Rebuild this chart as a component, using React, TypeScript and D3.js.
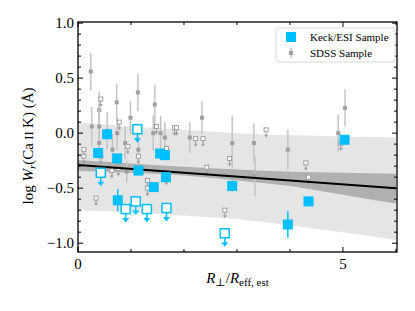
import React from 'react';
import * as d3 from 'd3';

// Keck/ESI detections
const keckX = [0.38, 0.55, 0.74, 0.75, 1.14, 1.43, 1.55, 1.64, 1.66, 2.91, 3.96, 4.35, 5.03];
const keckY = [-0.18, -0.01, -0.23, -0.61, -0.34, -0.49, -0.185, -0.2, -0.4, -0.48, -0.83, -0.62, -0.06];
const keckErr = [0.04, 0.04, 0.04, 0.1, 0.04, 0.04, 0.04, 0.04, 0.04, 0.05, 0.12, 0.03, 0.03];

// Keck/ESI upper limits
const keckLimX = [0.43, 1.12, 0.9, 1.09, 1.3, 1.67, 2.77];
const keckLimY = [-0.36, 0.035, -0.69, -0.62, -0.69, -0.68, -0.91];

// SDSS detections
const sdssX = [0.24, 0.4, 0.73, 0.99, 1.13, 1.45, 2.34, 0.26, 0.4, 0.4, 0.65, 0.74, 0.89, 1.14, 1.42, 1.56, 1.64, 2.11, 2.91, 3.32, 3.34, 3.96, 4.91, 5.04, 0.55, 0.92];
const sdssY = [0.56, 0.21, 0.28, 0.14, 0.37, 0.26, 0.14, 0.06, 0.06, -0.09, -0.15, 0.0, -0.09, -0.15, 0.0, 0.0, -0.04, -0.04, -0.09, -0.09, -0.39, -0.15, 0.0, 0.23, 0.02, -0.35];
const sdssErr = [0.17, 0.17, 0.17, 0.15, 0.17, 0.18, 0.15, 0.18, 0.2, 0.12, 0.14, 0.15, 0.15, 0.14, 0.16, 0.16, 0.14, 0.14, 0.25, 0.18, 0.18, 0.18, 0.17, 0.17, 0.17, 0.1];

// SDSS upper limits
const sdssLimX = [0.43, 0.78, 1.48, 1.82, 1.86, 0.11, 0.11, 0.43, 0.94, 0.64, 0.76, 1.14, 1.31, 1.31, 1.67, 1.67, 2.22, 2.36, 2.43, 2.86, 3.55, 4.3, 4.35, 4.96, 0.34, 2.77];
const sdssLimY = [0.31, 0.1, 0.06, 0.05, 0.05, -0.15, -0.21, -0.21, -0.12, -0.34, -0.32, -0.21, -0.43, -0.5, -0.14, -0.4, -0.05, -0.05, -0.31, -0.23, 0.03, -0.27, -0.4, -0.09, -0.59, -0.7];

// fit and bands
const fitX = [0, 6];
const fitY = [-0.29, -0.5];
const bandX = [0, 1, 2, 3, 4, 5, 6];
const innerHi = [-0.245, -0.275, -0.305, -0.33, -0.35, -0.36, -0.37];
const innerLo = [-0.345, -0.36, -0.385, -0.43, -0.48, -0.56, -0.64];
const outerHi = [0.1, 0.06, 0.03, 0.0, -0.02, -0.03, -0.04];
const outerLo = [-0.7, -0.72, -0.75, -0.78, -0.84, -0.9, -0.97];

const yMajor = [-1.0, -0.5, 0.0, 0.5, 1.0];
const xMajor = [0, 5];

const W = 415;
const H = 311;
const margin = { top: 22, right: 18, bottom: 59, left: 78 };

const CYAN = '#00bfff';
const GRAY = '#a0a0a0';
const BAR = '#c4c4c4';
const FONT = '"Liberation Serif", "DejaVu Serif", serif';

export default function App() {
  const x = d3.scaleLinear().domain([0, 6.02]).range([margin.left, W - margin.right]);
  const y = d3.scaleLinear().domain([-1.08, 1.01]).range([H - margin.bottom, margin.top]);
  const x0 = margin.left, x1 = W - margin.right, y0 = H - margin.bottom, y1 = margin.top;

  const area = (hi: number[], lo: number[]) =>
    d3.area<number>()
      .x((d, i) => x(bandX[i]))
      .y0((d, i) => y(lo[i]))
      .y1((d, i) => y(hi[i]))
      .curve(d3.curveMonotoneX)(hi) || '';

  const fitLine = d3.line<number>().x((d, i) => x(fitX[i])).y((d) => y(d))(fitY) || '';

  const yMinor = d3.range(-10, 11).map((d) => d / 10).filter((d) => !yMajor.some((m) => Math.abs(m - d) < 1e-6));
  const xMinor = [1, 2, 3, 4, 6];

  return (
    <svg width={W} height={H} style={{ position: 'absolute', left: 0, top: 0, background: '#fff' }} fontFamily={FONT}>
      <defs>
        <clipPath id="plot">
          <rect x={x0} y={y1} width={x1 - x0} height={y0 - y1} />
        </clipPath>
      </defs>
      <g clipPath="url(#plot)">
        <path d={area(outerHi, outerLo)} fill="#e5e5e5" />
        <path d={area(innerHi, innerLo)} fill="#b0b0b0" />

        {/* SDSS detections */}
        {sdssX.map((d, i) => (
          <g key={'s' + i}>
            <line x1={x(d)} x2={x(d)} y1={y(sdssY[i] - sdssErr[i])} y2={y(sdssY[i] + sdssErr[i])} stroke={BAR} strokeWidth={1.5} />
            <rect x={x(d) - 2} y={y(sdssY[i]) - 2} width={4} height={4} fill={GRAY} />
          </g>
        ))}
        {/* SDSS upper limits */}
        {sdssLimX.map((d, i) => {
          const cx = x(d), cy = y(sdssLimY[i]);
          return (
            <g key={'sl' + i} stroke={GRAY} fill="none">
              <rect x={cx - 2} y={cy - 2} width={4} height={4} fill="#fff" strokeWidth={1} />
              <line x1={cx} x2={cx} y1={cy + 2} y2={cy + 6} strokeWidth={1} />
              <path d={`M${cx - 2},${cy + 5}L${cx + 2},${cy + 5}L${cx},${cy + 8}Z`} fill={GRAY} stroke="none" />
            </g>
          );
        })}

        <path d={fitLine} stroke="#000" strokeWidth={2} fill="none" />

        {/* Keck detections */}
        {keckX.map((d, i) => (
          <g key={'k' + i}>
            <line x1={x(d)} x2={x(d)} y1={y(keckY[i] - keckErr[i])} y2={y(keckY[i] + keckErr[i])} stroke={CYAN} strokeWidth={1.5} />
            <rect x={x(d) - 5} y={y(keckY[i]) - 5} width={10} height={10} fill={CYAN} />
          </g>
        ))}
        {/* Keck upper limits */}
        {keckLimX.map((d, i) => {
          const cx = x(d), cy = y(keckLimY[i]);
          return (
            <g key={'kl' + i}>
              <line x1={cx} x2={cx} y1={cy + 5} y2={cy + 10} stroke={CYAN} strokeWidth={1.5} />
              <path d={`M${cx - 3.5},${cy + 9}L${cx + 3.5},${cy + 9}L${cx},${cy + 13.5}Z`} fill={CYAN} />
              <rect x={cx - 4.5} y={cy - 4.5} width={9} height={9} fill="#fff" stroke={CYAN} strokeWidth={1.5} />
            </g>
          );
        })}
      </g>

      {/* frame */}
      <rect x={x0} y={y1} width={x1 - x0} height={y0 - y1} fill="none" stroke="#000" strokeWidth={1.3} />

      {/* y ticks */}
      {yMajor.map((t) => (
        <g key={'ym' + t}>
          <line x1={x0} x2={x0 + 5} y1={y(t)} y2={y(t)} stroke="#000" />
          <line x1={x1} x2={x1 - 5} y1={y(t)} y2={y(t)} stroke="#000" />
          <text x={x0 - 4} y={y(t)} dy="0.35em" textAnchor="end" fontSize={15}>
            {t < 0 ? '\u2212' + Math.abs(t).toFixed(1) : t.toFixed(1)}
          </text>
        </g>
      ))}
      {yMinor.map((t) => (
        <g key={'yn' + t}>
          <line x1={x0} x2={x0 + 3} y1={y(t)} y2={y(t)} stroke="#000" />
          <line x1={x1} x2={x1 - 3} y1={y(t)} y2={y(t)} stroke="#000" />
        </g>
      ))}

      {/* x ticks */}
      {xMajor.map((t) => (
        <g key={'xm' + t}>
          <line x1={x(t)} x2={x(t)} y1={y0} y2={y0 - 5} stroke="#000" />
          <line x1={x(t)} x2={x(t)} y1={y1} y2={y1 + 5} stroke="#000" />
          <text x={x(t)} y={y0 + 17} textAnchor="middle" fontSize={15}>{t}</text>
        </g>
      ))}
      {xMinor.map((t) => (
        <g key={'xn' + t}>
          <line x1={x(t)} x2={x(t)} y1={y0} y2={y0 - 3} stroke="#000" />
          <line x1={x(t)} x2={x(t)} y1={y1} y2={y1 + 3} stroke="#000" />
        </g>
      ))}

      {/* axis labels */}
      <text x={(x0 + x1) / 2} y={283} textAnchor="middle" fontSize={15}>
        <tspan fontStyle="italic">R</tspan>
        <tspan fontSize={11} dy={3}>⊥</tspan>
        <tspan dy={-3}>/</tspan>
        <tspan fontStyle="italic">R</tspan>
        <tspan fontSize={11} dy={3}>eff, est</tspan>
      </text>
      <text transform={`translate(33,146) rotate(-90)`} textAnchor="middle" fontSize={15}>
        log <tspan fontStyle="italic">W</tspan>
        <tspan fontSize={11} fontStyle="italic" dy={3}>r</tspan>
        <tspan dy={-3}>(Ca</tspan>
        <tspan fontSize={13}> II </tspan>
        <tspan>K) (Å)</tspan>
      </text>

      {/* legend */}
      <rect x={276} y={28} width={119} height={34} rx={3} fill="#fff" fillOpacity={0.85} stroke="#d8d8d8" strokeWidth={1} />
      <rect x={286} y={32} width={10} height={10} fill={CYAN} />
      <text x={310} y={41} fontSize={11}>Keck/ESI Sample</text>
      <line x1={291} x2={291} y1={48} y2={58} stroke={BAR} strokeWidth={1.5} />
      <rect x={289} y={51} width={4} height={4} fill={GRAY} />
      <text x={310} y={57} fontSize={11}>SDSS Sample</text>
    </svg>
  );
}
